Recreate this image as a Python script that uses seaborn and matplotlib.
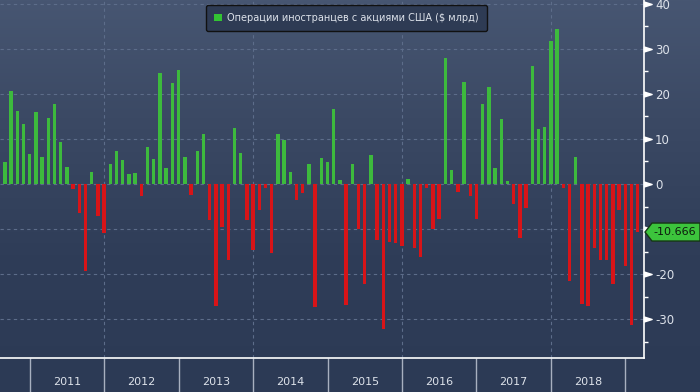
import numpy as np
import pandas as pd
import matplotlib
matplotlib.use("Agg")
import matplotlib.pyplot as plt
from matplotlib.patches import Patch, Polygon
from matplotlib.path import Path
from matplotlib.colors import LinearSegmentedColormap
import matplotlib.transforms as mtransforms
import seaborn as sns

# ---------------- data ----------------
months = pd.date_range("2010-08-31", periods=103, freq="ME")
values = [
    4.8, 20.7, 16.2, 13.3, 6.7,                                            # 2010 Aug-Dec
    16.0, 6.0, 14.7, 17.8, 9.3, 3.8, -1.1, -6.4, -19.3, 2.7, -7.1, -10.8,   # 2011
    4.5, 7.3, 5.3, 2.2, 2.4, -2.7, 8.2, 5.6, 24.7, 3.6, 22.4, 25.3,         # 2012
    6.0, -2.4, 7.3, 11.1, -8.1, -27.0, -9.5, -16.8, 12.4, 6.9, -7.9, -14.6, # 2013
    -5.7, -0.8, -15.3, 11.1, 9.8, 2.7, -3.5, -2.1, 4.4, -27.3, 5.8, 4.9,    # 2014
    16.7, 0.9, -26.8, 4.4, -9.9, -22.1, 6.4, -12.4, -32.1, -12.8, -13.0, -13.7,  # 2015
    1.1, -14.1, -16.1, -0.8, -10.1, -7.7, 28.0, 3.1, -1.7, 22.7, -2.6, -7.7,     # 2016
    17.8, 21.6, 3.6, 14.4, 0.7, -4.4, -11.9, -5.3, 26.2, 12.2, 12.7, 31.8,       # 2017
    34.4, -0.8, -21.5, 6.0, -26.6, -27.0, -14.1, -16.8, -16.8, -22.1, -5.7, -18.1,  # 2018
    -31.3, -10.666,                                                          # 2019
]
year_labels = ["2011", "2012", "2013", "2014", "2015", "2016", "2017", "2018"]
y_ticks = [-30, -20, -10, 0, 10, 20, 30, 40]
legend_label = "Операции иностранцев с акциями США ($ млрд)"
last_label = "-10.666"

# ---------------- style ----------------
W, H = 700, 392
plt.rcParams["font.family"] = ["DejaVu Sans"]
plt.rcParams["axes.unicode_minus"] = False

GREEN = "#3dba3d"
RED = "#d81418"
TXT = "#dde2ea"
GRID = "#5d6d8a"

df = pd.DataFrame({
    "x": [d.year + d.month / 12.0 for d in months],
    "v": values,
})
df["sign"] = np.where(df["v"] >= 0, "pos", "neg")

fig = plt.figure(figsize=(W / 100, H / 100), dpi=100)

# gradient background
bg = fig.add_axes([0, 0, 1, 1], zorder=-10)
cmap = LinearSegmentedColormap.from_list(
    "bg", [(0.0, "#2c3a55"), (0.35, "#2f3d58"), (0.7, "#3b4964"), (1.0, "#475672")])
grad = np.linspace(0, 1, 256).reshape(-1, 1)
bg.imshow(grad, aspect="auto", cmap=cmap, origin="lower", extent=[0, 1, 0, 1])
bg.set_axis_off()

ax = fig.add_axes([0, 34 / H, 644 / W, 358 / H])
ax.set_facecolor("none")

sns.barplot(data=df, x="x", y="v", hue="sign", native_scale=True,
            palette={"pos": GREEN, "neg": RED}, saturation=1, width=0.55,
            dodge=False, legend=False, ax=ax, zorder=3)

ax.set_xlim(2010.601, 2019.251)
ax.set_ylim(-38.63, 40.85)

# spines
for s in ["top", "left"]:
    ax.spines[s].set_visible(False)
for s in ["right", "bottom"]:
    ax.spines[s].set_color("white")
    ax.spines[s].set_linewidth(1.2)

# y axis on right (the -10 label is covered by the last-value tag)
ax.yaxis.tick_right()
ax.set_yticks(y_ticks)
ax.set_yticklabels(["" if t == -10 else str(t) for t in y_ticks])
ax.set_yticks([-35, -25, -15, -5, 5, 15, 25, 35], minor=True)
ax.tick_params(axis="y", which="major", length=0, pad=8, labelsize=8.5, labelcolor=TXT)
ax.tick_params(axis="y", which="minor", length=3, width=1, color="white", direction="out")
ax.set_ylabel("")

# triangle major ticks
tri = Path([(0, -0.32), (0, 0.32), (1, 0), (0, -0.32)],
           [Path.MOVETO, Path.LINETO, Path.LINETO, Path.CLOSEPOLY])
trans = mtransforms.blended_transform_factory(ax.transAxes, ax.transData)
ax.plot([1.0] * len(y_ticks), y_ticks, linestyle="none", marker=tri, markersize=11,
        color="white", transform=trans, clip_on=False, zorder=5)

# x axis: year boundaries and labels
ax.set_xticks(list(range(2011, 2020)))
ax.set_xticklabels([""] * 9)
ax.set_xticks([int(y) + 0.5 for y in year_labels], minor=True)
ax.set_xticklabels(year_labels, minor=True)
ax.tick_params(axis="x", which="major", length=34, width=1, color="#a8b0c0", direction="out")
ax.tick_params(axis="x", which="minor", length=0, pad=14, labelsize=8, labelcolor=TXT)
ax.set_xlabel("")

# grid
ax.yaxis.grid(True, which="major", color=GRID, linestyle=(0, (3, 3)), linewidth=0.8, zorder=0)
ax.xaxis.grid(False)
for yr in [2012, 2014, 2016, 2018]:
    ax.axvline(yr, color=GRID, linestyle=(0, (3, 3)), linewidth=0.8, zorder=0)
ax.set_axisbelow(True)

# legend
handle = Patch(facecolor="#33c433", edgecolor="none", label=legend_label)
leg = ax.legend(handles=[handle], loc="upper left",
                bbox_to_anchor=(206 / 644, 1 - 5 / 358), fontsize=7,
                frameon=True, fancybox=True, facecolor="#2e3b54", edgecolor="#111111",
                framealpha=1, handlelength=0.85, handleheight=0.85, handletextpad=0.55,
                borderpad=0.8, borderaxespad=0, labelcolor=TXT)
leg.get_frame().set_linewidth(1.0)

# last value tag
fig.canvas.draw()
yd = ax.transData.transform((2019.0, values[-1]))[1]
xd = ax.transAxes.transform((1.0, 0))[0]
hh = 9
poly = Polygon([(xd + 1, yd), (xd + 8, yd + hh), (W, yd + hh), (W, yd - hh), (xd + 8, yd - hh)],
               closed=True, transform=None, facecolor="#3cc43c", edgecolor="#163516",
               linewidth=1, zorder=20)
fig.add_artist(poly)
fig.text((xd + 9) / W, yd / H, last_label, ha="left", va="center", fontsize=8,
         color="#0d1a0d", zorder=21)

fig.savefig("out.png", dpi=100)
